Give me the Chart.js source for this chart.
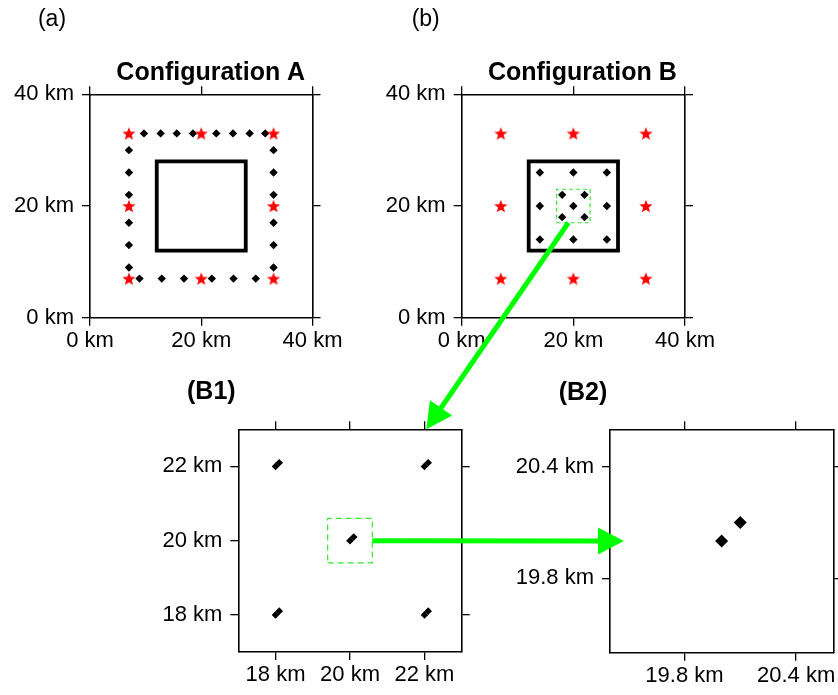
<!DOCTYPE html>
<html>
<head>
<meta charset="utf-8">
<script src="https://cdn.jsdelivr.net/npm/chart.js@4/dist/chart.umd.min.js"></script>
<style>
  html, body { margin: 0; padding: 0; background: #fff; }
  #wrap { position: relative; width: 838px; height: 695px; }
  #wrap canvas { position: absolute; left: 0; top: 0; }
</style>
</head>
<body>
<div id="wrap">
  <canvas id="cA" width="838" height="695"></canvas>
  <canvas id="cB" width="838" height="695"></canvas>
  <canvas id="cB1" width="838" height="695"></canvas>
  <canvas id="cB2" width="838" height="695"></canvas>
</div>
<script>
// ---- data (km) ----
// sources (red stars), same for both configurations
const srcX = [7, 20, 33, 7, 33, 7, 20, 33];
const srcY = [33, 33, 33, 20, 20, 7, 7, 7];

// configuration A receivers (ring round the target)
const recAX = [9.7, 12.7, 15.6, 18.5, 22.7, 25.7, 28.7, 31.5,
               8.9, 12.9, 16.9, 21.9, 25.8, 29.8,
               7, 7, 7, 7, 7, 7,
               33, 33, 33, 33, 33, 33];
const recAY = [33, 33, 33, 33, 33, 33, 33, 33,
               7, 7, 7, 7, 7, 7,
               30, 26, 22, 17, 13, 9,
               30, 26, 22, 17, 13, 9];

// configuration B receivers: each site is a pair of stations
const recBX = [14, 20, 26, 14, 20, 26, 14, 20, 26, 18, 22, 18, 22];
const recBY = [26, 26, 26, 20, 20, 20, 14, 14, 14, 22, 22, 18, 18];
const recBX2 = [14.1, 20.1, 26.1, 14.1, 20.1, 26.1, 14.1, 20.1, 26.1, 18.1, 22.1, 18.1, 22.1];
const recBY2 = [26.1, 26.1, 26.1, 20.1, 20.1, 20.1, 14.1, 14.1, 14.1, 22.1, 22.1, 18.1, 18.1];

// target square
const boxX = [12, 28, 28, 12, 12];
const boxY = [12, 12, 28, 28, 12];

// axis limits and ticks
const fullLim = [0, 40];
const fullTicks = [0, 20, 40];
const b1Lim = [17, 23];
const b1Ticks = [18, 20, 22];
const b2Lim = [19.4, 20.6];
const b2Ticks = [19.8, 20.4];

// zoom boxes (dashed green)
const zoomB1X = [17, 23, 23, 17, 17];
const zoomB1Y = [17, 17, 23, 23, 17];
const zoomB2X = [19.4, 20.6, 20.6, 19.4, 19.4];
const zoomB2Y = [19.4, 19.4, 20.6, 20.6, 19.4];

// arrows: [x, y] in km of the panel they belong to
const arrow1From = [19.1, 17];    // panel B
const arrow1To = [22.05, 23];     // panel B1
const arrow2From = [20.6, 20];    // panel B1
const arrow2To = [19.475, 20];    // panel B2

// ---- helpers ----
const FONT = "'Liberation Sans', Arial, sans-serif";
const W = 838, H = 695;
const AXH = 45, AXT = 2, AXR = 2;
const GREEN = '#00ff00';
const DASH_GREEN = '#33e633';

function pts(xs, ys) {
  return xs.map((x, i) => ({x: x, y: ys[i]}));
}

function starImage(r, color) {
  const c = document.createElement('canvas');
  const s = Math.ceil(r * 2 + 2);
  c.width = s; c.height = s;
  const g = c.getContext('2d');
  g.fillStyle = color;
  g.beginPath();
  for (let i = 0; i < 10; i++) {
    const rr = i % 2 === 0 ? r : r * 0.42;
    const a = -Math.PI / 2 + i * Math.PI / 5;
    const px = s / 2 + rr * Math.cos(a), py = s / 2 + rr * Math.sin(a) + r * 0.1;
    if (i === 0) g.moveTo(px, py); else g.lineTo(px, py);
  }
  g.closePath();
  g.fill();
  return c;
}
const star = starImage(7, '#ff0000');

function axis(pos, lim, ticks, labels, axw) {
  return {
    type: 'linear',
    axis: (pos === 'top' || pos === 'bottom') ? 'x' : 'y',
    position: pos,
    min: lim[0],
    max: lim[1],
    afterBuildTicks: s => { s.ticks = ticks.map(v => ({value: v})); },
    afterFit: s => {
      if (pos === 'bottom') s.height = AXH;
      else if (pos === 'top') s.height = AXT;
      else if (pos === 'left') s.width = axw;
      else s.width = AXR;
    },
    grid: {drawOnChartArea: false, drawTicks: true, tickLength: 8, color: '#000', lineWidth: 1.3},
    border: {display: true, color: '#000', width: 1.6},
    ticks: {
      display: labels,
      autoSkip: false,
      maxRotation: 0,
      color: '#000',
      padding: pos === 'left' ? 8 : 2,
      font: {family: FONT, size: 22},
      callback: v => v + ' km'
    }
  };
}

function textPlugin(items) {
  return {
    id: 'panelText',
    afterDraw(chart) {
      const ctx = chart.ctx, a = chart.chartArea;
      ctx.save();
      ctx.fillStyle = '#000';
      ctx.textAlign = 'center';
      ctx.textBaseline = 'alphabetic';
      items.forEach(it => {
        ctx.font = it.font;
        const x = it.from === 'left' ? a.left + it.dx : (a.left + a.right) / 2 + it.dx;
        ctx.fillText(it.text, x, a.top + it.dy);
      });
      ctx.restore();
    }
  };
}

function makePanel(id, area, lim, ticks, datasets, texts, extra) {
  const axw = Math.min(area[0], 110);
  const cfg = {
    type: 'scatter',
    data: {datasets: datasets},
    options: {
      responsive: false,
      animation: false,
      events: [],
      layout: {
        autoPadding: false,
        padding: {
          left: area[0] - axw,
          top: area[1] - AXT,
          right: W - area[2] - AXR,
          bottom: H - area[3] - AXH
        }
      },
      scales: {
        x: axis('bottom', lim, ticks, true, axw),
        y: axis('left', lim, ticks, true, axw),
        x2: axis('top', lim, ticks, false, axw),
        y2: axis('right', lim, ticks, false, axw)
      },
      plugins: {legend: {display: false}, tooltip: {enabled: false}, title: {display: false}}
    },
    plugins: [textPlugin(texts)].concat(extra || [])
  };
  return new Chart(document.getElementById(id), cfg);
}

function sources() {
  return {data: pts(srcX, srcY), pointStyle: star, pointRadius: 7, backgroundColor: '#f00', borderWidth: 0, order: 0};
}
function receivers(xs, ys, r) {
  return {data: pts(xs, ys), pointStyle: 'rectRot', pointRadius: r, backgroundColor: '#000', borderWidth: 0, order: 1};
}
function square(xs, ys, color, width, dash) {
  return {
    data: pts(xs, ys), showLine: true, pointRadius: 0, fill: false,
    borderColor: color, borderWidth: width, borderDash: dash || [],
    borderCapStyle: dash ? 'butt' : 'square', borderJoinStyle: 'miter', order: 3
  };
}

// ---- panels ----
const chartA = makePanel('cA', [90, 94.3, 312.5, 317.7], fullLim, fullTicks, [
  sources(),
  receivers(recAX, recAY, 4.2),
  square(boxX, boxY, '#000', 3.8)
], [
  {text: '(a)', font: '23px ' + FONT, from: 'left', dx: -38, dy: -68},
  {text: 'Configuration A', font: 'bold 25px ' + FONT, from: 'center', dx: 9.5, dy: -14.3}
]);

const chartB = makePanel('cB', [461.7, 94.3, 685, 317.7], fullLim, fullTicks, [
  sources(),
  receivers(recBX, recBY, 4.2),
  square(boxX, boxY, '#000', 3.8),
  square(zoomB1X, zoomB1Y, DASH_GREEN, 1.2, [4, 3])
], [
  {text: '(b)', font: '23px ' + FONT, from: 'left', dx: -36, dy: -68},
  {text: 'Configuration B', font: 'bold 25px ' + FONT, from: 'center', dx: 9, dy: -14.3}
]);

const chartB1 = makePanel('cB1', [238.3, 429.3, 461.7, 652], b1Lim, b1Ticks, [
  receivers(recBX, recBY, 3.8),
  receivers(recBX2, recBY2, 3.8),
  square(zoomB2X, zoomB2Y, DASH_GREEN, 1.2, [6, 4])
], [
  {text: '(B1)', font: 'bold 25px ' + FONT, from: 'left', dx: -27, dy: -30}
]);

function drawArrow(ctx, x0, y0, x1, y1) {
  const len = Math.hypot(x1 - x0, y1 - y0);
  const ux = (x1 - x0) / len, uy = (y1 - y0) / len;
  const head = 26, half = 13.5;
  const bx = x1 - ux * head, by = y1 - uy * head;
  ctx.strokeStyle = GREEN;
  ctx.fillStyle = GREEN;
  ctx.lineWidth = 5;
  ctx.lineCap = 'butt';
  ctx.beginPath();
  ctx.moveTo(x0, y0);
  ctx.lineTo(bx + ux * 2, by + uy * 2);
  ctx.stroke();
  ctx.beginPath();
  ctx.moveTo(x1, y1);
  ctx.lineTo(bx - uy * half, by + ux * half);
  ctx.lineTo(bx + uy * half, by - ux * half);
  ctx.closePath();
  ctx.fill();
}

const arrowPlugin = {
  id: 'zoomArrows',
  afterDraw(chart) {
    const ctx = chart.ctx;
    const px = (c, p) => [c.scales.x.getPixelForValue(p[0]), c.scales.y.getPixelForValue(p[1])];
    const a0 = px(chartB, arrow1From), a1 = px(chartB1, arrow1To);
    const b0 = px(chartB1, arrow2From), b1 = px(chart, arrow2To);
    ctx.save();
    drawArrow(ctx, a0[0], a0[1], a1[0], a1[1]);
    drawArrow(ctx, b0[0], b0[1], b1[0], b1[1]);
    ctx.restore();
  }
};

const chartB2 = makePanel('cB2', [610, 429.3, 833.3, 652.7], b2Lim, b2Ticks, [
  receivers(recBX, recBY, 6.5),
  receivers(recBX2, recBY2, 6.5)
], [
  {text: '(B2)', font: 'bold 25px ' + FONT, from: 'left', dx: -27, dy: -29}
], [arrowPlugin]);
</script>
</body>
</html>
